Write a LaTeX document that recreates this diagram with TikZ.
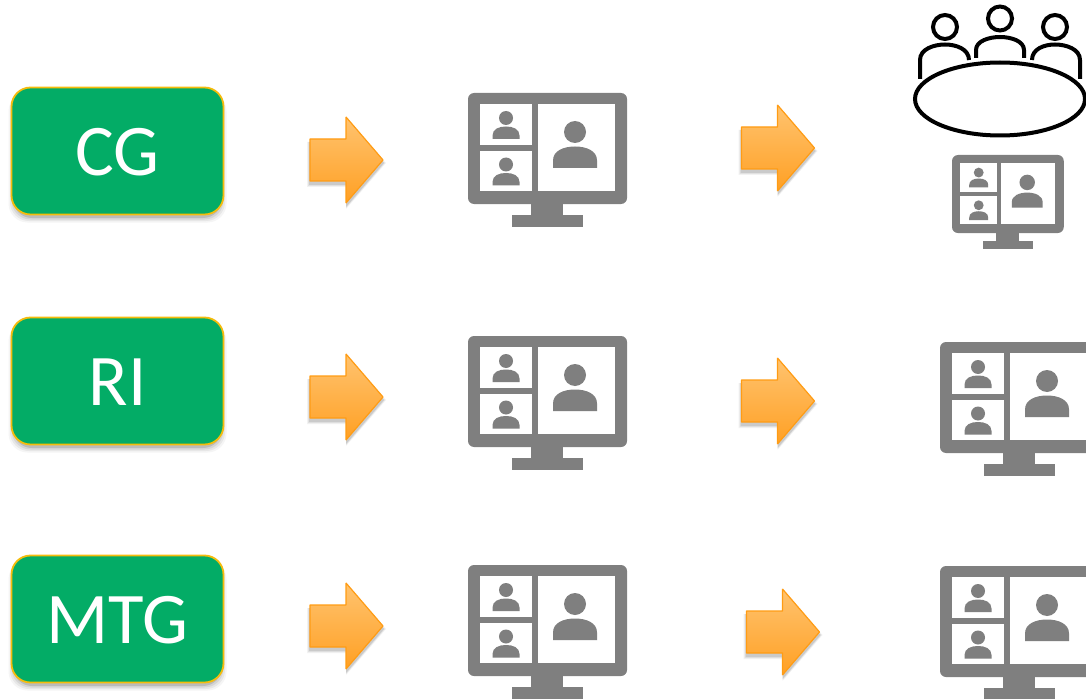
\documentclass[tikz,border=0pt]{standalone}
\usepackage{fontspec}
\setmainfont{Carlito}
\definecolor{boxgreen}{HTML}{03AC66}
\definecolor{boxedge}{HTML}{F5BC0C}
\definecolor{arrowedge}{HTML}{FF9C14}
\definecolor{arrowtop}{HTML}{FFC36F}
\definecolor{arrowbot}{HTML}{FFA024}
\definecolor{screengray}{HTML}{7F7F7F}
\tikzset{
  x=1bp,y=-1bp,
  labelbox/.style={draw=boxedge,line width=1.8bp,fill=boxgreen,rounded corners=19bp,minimum width=212bp,minimum height=127bp,inner sep=0pt,text=white,text height=50bp,text depth=1bp,font=\fontsize{73}{73}\selectfont},
  arrowshape/.style={draw=arrowedge,line width=1.2bp,line join=bevel,top color=arrowtop,bottom color=arrowbot},
  graypart/.style={fill=screengray,draw=none},
  panepart/.style={fill=white,draw=none},
  tableline/.style={draw=black,line width=4bp,line cap=round,fill=none},
}
% shadow for a rounded box
\newcommand{\boxshadow}[2]{%
  \foreach \g/\o in {5/0.04,3.5/0.06,2/0.08,0.5/0.12}{
    \fill[black,opacity=\o,rounded corners=19bp] (#1-106-\g+2,#2-63.5+5) rectangle (#1+106+\g-2,#2+63.5+3+\g);
  }}
% a monitor whose outer top-left corner is at #1,#2, scaled by #3
\newcommand{\screenicon}[3]{%
\begin{scope}[shift={(#1,#2)},scale=#3]
  \fill[graypart,rounded corners=6bp] (0,0) rectangle (159,111);
  \fill[graypart] (63,108) rectangle (95,124);
  \fill[graypart] (43.5,122) rectangle (115,134);
  \fill[panepart] (12,11) rectangle (64,52);
  \fill[panepart] (12,58) rectangle (64,98);
  \fill[panepart] (70,11) rectangle (147,98);
  \foreach \py in {0,46.5}{
    \fill[graypart] (38,25+\py) circle (7);
    \fill[graypart] (24.5,46+\py) -- (24.5,42.5+\py) .. controls (24.5,36+\py) and (31,33.5+\py) .. (38,33.5+\py) .. controls (45,33.5+\py) and (51.5,36+\py) .. (51.5,42.5+\py) -- (51.5,46+\py) -- cycle;
  }
  \fill[graypart] (107,39) circle (11);
  \fill[graypart] (85,75) -- (85,67.5) .. controls (85,57.5) and (96,53.5) .. (107,53.5) .. controls (118,53.5) and (129,57.5) .. (129,67.5) -- (129,75) -- cycle;
\end{scope}}
% block arrow with tail-left at #1, tip at #1+73, centred on y=#2
\newcommand{\blockarrow}[3]{%
  \foreach \g/\o in {3/0.05,2/0.07,1/0.1}{
    \fill[black,opacity=\o] (#1-\g,#2-21+3) -- (#1+36,#2-21+3) -- (#1+36,#2-43+3-\g) -- (#1+73+\g,#2+3) -- (#1+36,#2+43+3+\g) -- (#1+36,#2+21+3+\g) -- (#1-\g,#2+21+3+\g) -- cycle;
  }
  \path[arrowshape] (#1,#2-21) -- (#1+36,#2-21) -- (#1+36,#2-43) -- (#1+73,#2) -- (#1+36,#2+43) -- (#1+36,#2+21) -- (#1,#2+21) -- cycle;
  \coordinate (#3) at (#1+37,#2);}
\begin{document}
\begin{tikzpicture}
\useasboundingbox (0,0) rectangle (1086,699);
\clip (0,0) rectangle (1086,699);
\boxshadow{117.5}{151}
\boxshadow{117.5}{381}
\boxshadow{117.5}{619}
\node[labelbox] (cg) at (117.5,151) {CG};
\node[labelbox] (ri) at (117.5,381) {RI};
\node[labelbox] (mtg) at (117.5,619) {MTG};
\blockarrow{310}{160}{a1}
\blockarrow{310}{397}{a2}
\blockarrow{310}{626}{a3}
\blockarrow{741.5}{148}{b1}
\blockarrow{741.5}{401}{b2}
\blockarrow{746.5}{632}{b3}
\screenicon{468}{93}{1}
\screenicon{468}{336}{1}
\screenicon{468}{565}{1}
\screenicon{952}{155}{0.703}
\screenicon{940}{342}{1}
\screenicon{940}{566}{1}
% meeting table
\draw[tableline] (1000,99) ellipse (85 and 36.5);
\foreach \cx/\cy in {945/27,1000/18.5,1055/27}{
  \draw[tableline] (\cx,\cy) circle (12);
}
\draw[tableline,line cap=butt] (920,79) -- (920,60) .. controls (920,49) and (934,44.5) .. (945,44.5) .. controls (956,44.5) and (969,49) .. (969,60);
\draw[tableline,line cap=butt] (976,58) -- (976,50) .. controls (976,41) and (989,37) .. (1000,37) .. controls (1011,37) and (1024,41) .. (1024,50) -- (1024,58);
\draw[tableline,line cap=butt] (1032,60) .. controls (1032,49) and (1044,44.5) .. (1055,44.5) .. controls (1066,44.5) and (1080,49) .. (1080,60) -- (1080,79);
\end{tikzpicture}
\end{document}
